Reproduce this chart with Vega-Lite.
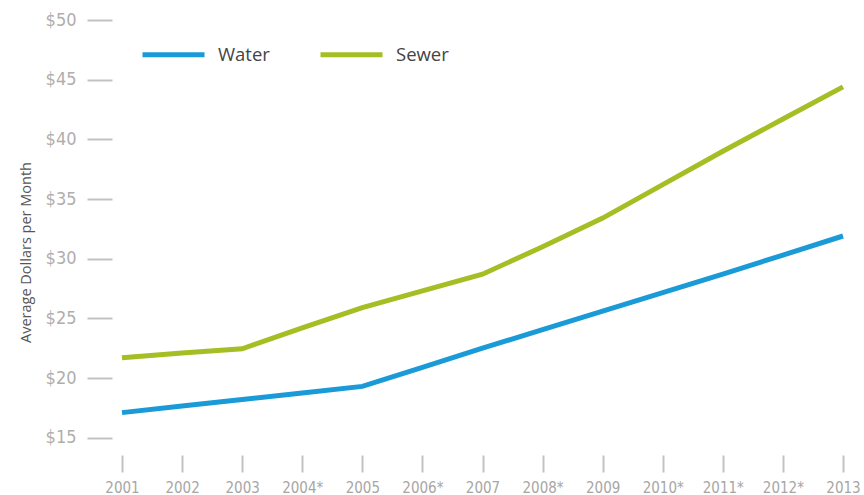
{
  "$schema": "https://vega.github.io/schema/vega-lite/v6.json",
  "width": 741,
  "height": 432,
  "autosize": {"type": "none"},
  "padding": {"left": 112, "top": 20, "right": 11, "bottom": 43},
  "background": "white",
  "config": {"view": {"stroke": null}},
  "data": {"values": [
    {"year": "2001", "type": "Water", "value": 17.1},
    {"year": "2002", "type": "Water", "value": 17.65},
    {"year": "2003", "type": "Water", "value": 18.2},
    {"year": "2004*", "type": "Water", "value": 18.75},
    {"year": "2005", "type": "Water", "value": 19.3},
    {"year": "2006*", "type": "Water", "value": 20.9},
    {"year": "2007", "type": "Water", "value": 22.5},
    {"year": "2008*", "type": "Water", "value": 24.05},
    {"year": "2009", "type": "Water", "value": 25.6},
    {"year": "2010*", "type": "Water", "value": 27.15},
    {"year": "2011*", "type": "Water", "value": 28.7},
    {"year": "2012*", "type": "Water", "value": 30.3},
    {"year": "2013", "type": "Water", "value": 31.9},
    {"year": "2001", "type": "Sewer", "value": 21.7},
    {"year": "2002", "type": "Sewer", "value": 22.1},
    {"year": "2003", "type": "Sewer", "value": 22.45},
    {"year": "2004*", "type": "Sewer", "value": 24.2},
    {"year": "2005", "type": "Sewer", "value": 25.9},
    {"year": "2006*", "type": "Sewer", "value": 27.3},
    {"year": "2007", "type": "Sewer", "value": 28.7},
    {"year": "2008*", "type": "Sewer", "value": 31.0},
    {"year": "2009", "type": "Sewer", "value": 33.4},
    {"year": "2010*", "type": "Sewer", "value": 36.2},
    {"year": "2011*", "type": "Sewer", "value": 39.0},
    {"year": "2012*", "type": "Sewer", "value": 41.7},
    {"year": "2013", "type": "Sewer", "value": 44.4}
  ]},
  "mark": {"type": "line", "strokeWidth": 5, "strokeCap": "butt"},
  "encoding": {
    "x": {
      "field": "year", "type": "ordinal", "sort": null,
      "scale": {"type": "point", "padding": 0.1664},
      "axis": {
        "title": null, "domain": false, "labelAngle": 0,
        "tickSize": 17, "offset": 3, "tickWidth": 2, "tickColor": "#c4c2c0",
        "labelPadding": 8, "labelFontSize": 15, "labelColor": "#a8a6a4",
        "labelFont": "DejaVu Sans Condensed, Liberation Sans Narrow, Roboto"
      }
    },
    "y": {
      "field": "value", "type": "quantitative",
      "scale": {"domain": [13.8, 50], "nice": false, "zero": false},
      "axis": {
        "title": "Average Dollars per Month",
        "titleFont": "Open Sans", "titleFontWeight": "normal", "titleFontSize": 14.5, "titleColor": "#555555",
        "titlePadding": 12, "titleY": 232,
        "values": [15, 20, 25, 30, 35, 40, 45, 50],
        "labelExpr": "'$' + datum.value",
        "domain": false, "grid": false,
        "tickSize": 25, "tickWidth": 2, "tickColor": "#c4c2c0",
        "labelPadding": 11, "labelFontSize": 18, "labelColor": "#b0aeac",
        "labelFont": "DejaVu Sans Condensed, Liberation Sans Narrow, Roboto"
      }
    },
    "color": {
      "field": "type", "type": "nominal",
      "scale": {"domain": ["Water", "Sewer"], "range": ["#1a9bd7", "#a5be24"]},
      "legend": {
        "title": null, "orient": "none", "legendX": 28, "legendY": 1,
        "direction": "horizontal",
        "symbolType": "stroke", "symbolSize": 3844, "symbolStrokeWidth": 5,
        "labelFont": "Open Sans", "labelFontSize": 18.5, "labelColor": "#444444",
        "labelOffset": 11, "columnPadding": 40
      }
    }
  }
}
